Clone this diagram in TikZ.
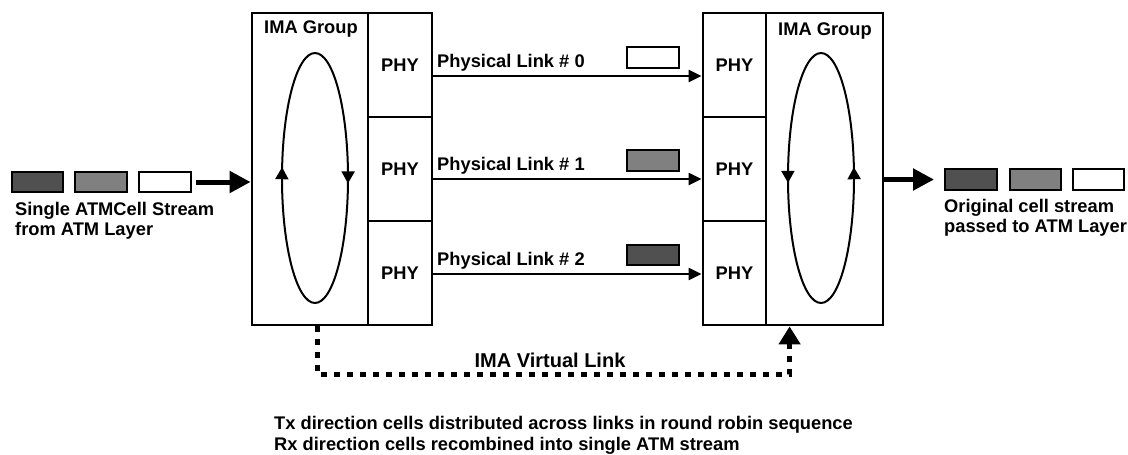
\documentclass[tikz,border=0pt]{standalone}
\usepackage{fontspec}
\setmainfont{Liberation Sans}
\usetikzlibrary{calc,shapes,arrows.meta,decorations.markings}

\definecolor{celldark}{HTML}{505050}
\definecolor{cellgray}{HTML}{808080}

\begin{document}
\begin{tikzpicture}[x=1pt, y=1pt,
    txt/.style={font=\bfseries\fontsize{18.3}{20.5}\selectfont, inner sep=0pt},
    box/.style={rectangle, draw, line width=2.8pt, inner sep=0pt},
    cell/.style={rectangle, draw, line width=2.4pt, minimum width=51.5pt, minimum height=20.5pt, inner sep=0pt},
    link/.style={draw, line width=2.2pt, -{Triangle[length=13pt,width=12pt]}},
    bigarrow/.style={draw, line width=5pt, -{Triangle[length=21pt,width=21pt]}},
    vlink/.style={draw, line width=5pt, dash pattern=on 6pt off 7pt, -{Triangle[length=18pt,width=21pt]}},
    ringL/.style={line width=2pt, postaction={decorate}, decoration={markings,
        mark=at position 0.48 with {\arrowreversed{Triangle[length=12pt,width=13pt]}},
        mark=at position 0.99 with {\arrowreversed{Triangle[length=12pt,width=13pt]}}}},
    ringR/.style={line width=2pt, postaction={decorate}, decoration={markings,
        mark=at position 0.02 with {\arrow{Triangle[length=12pt,width=13pt]}},
        mark=at position 0.509 with {\arrow{Triangle[length=12pt,width=13pt]}}}}]
    \useasboundingbox (0,0) rectangle (1128,-455);
    % Place nodes
    \node [box, minimum width=116pt, minimum height=312pt] (imaL) at (310,-169) {};
    \node [txt, anchor=base] (imaLt) at (311,-34) {IMA Group};
    \node [box, txt, minimum width=64pt, minimum height=104pt] (phyL0) at (400,-65) {PHY};
    \node [box, txt, minimum width=64pt, minimum height=104pt] (phyL1) at (400,-169) {PHY};
    \node [box, txt, minimum width=64pt, minimum height=104pt] (phyL2) at (400,-273) {PHY};
    \node [box, txt, minimum width=63pt, minimum height=104pt] (phyR0) at (734.5,-65) {PHY};
    \node [box, txt, minimum width=63pt, minimum height=104pt] (phyR1) at (734.5,-169) {PHY};
    \node [box, txt, minimum width=63pt, minimum height=104pt] (phyR2) at (734.5,-273) {PHY};
    \node [box, minimum width=117pt, minimum height=312pt] (imaR) at (824.5,-169) {};
    \node [txt, anchor=base] (imaRt) at (825,-35) {IMA Group};
    \draw [ringL] (315,-178) ellipse [x radius=33, y radius=125];
    \draw [ringR] (821,-178) ellipse [x radius=33, y radius=125];
    % physical links
    \coordinate (lk0) at (0,-76);
    \coordinate (lk1) at (0,-179);
    \coordinate (lk2) at (0,-274);
    \node [txt, anchor=base west] (lab0) at (437,-67) {Physical Link \# 0};
    \node [txt, anchor=base west] (lab1) at (437,-170) {Physical Link \# 1};
    \node [txt, anchor=base west] (lab2) at (437,-265) {Physical Link \# 2};
    \node [cell, fill=white] (pk0) at (653,-57.5) {};
    \node [cell, fill=cellgray] (pk1) at (653,-160.5) {};
    \node [cell, fill=celldark] (pk2) at (653,-255) {};
    \path[link] (phyL0.east |- lk0) -- (phyR0.west |- lk0);
    \path[link] (phyL1.east |- lk1) -- (phyR1.west |- lk1);
    \path[link] (phyL2.east |- lk2) -- (phyR2.west |- lk2);
    % cell streams
    \node [cell, fill=celldark] (in0) at (37.5,-182) {};
    \node [cell, fill=cellgray] (in1) at (101,-182) {};
    \node [cell, fill=white] (in2) at (165,-182) {};
    \node [txt, align=left, anchor=north west] (inlab) at (15,-202) {Single ATMCell Stream\\from ATM Layer};
    \node [cell, fill=celldark] (out0) at (971,-179.5) {};
    \node [cell, fill=cellgray] (out1) at (1035.5,-179.5) {};
    \node [cell, fill=white] (out2) at (1098.5,-179.5) {};
    \node [txt, align=left, anchor=north west] (outlab) at (944,-199) {Original cell stream\\passed to ATM Layer};
    \path[bigarrow, shorten <=4pt] (in2.east) -- (imaL.west |- in2);
    \path[bigarrow, shorten >=10pt] (imaR.east |- out0) -- (out0.west);
    % virtual link
    \coordinate (vs) at ($(imaL.south)+(7,0)$);
    \coordinate (ve) at ($(imaR.south west)+(25,0)$);
    \path[vlink] (vs) -- ++(0,-48) -| (ve);
    \node [txt, font=\bfseries\fontsize{20}{22}\selectfont, anchor=base] (vlab) at (550,-367) {IMA Virtual Link};
    \node [txt, align=left, anchor=north west] (note) at (274,-416.5) {Tx direction cells distributed across links in round robin sequence\\Rx direction cells recombined into single ATM stream};
\end{tikzpicture}
\end{document}
